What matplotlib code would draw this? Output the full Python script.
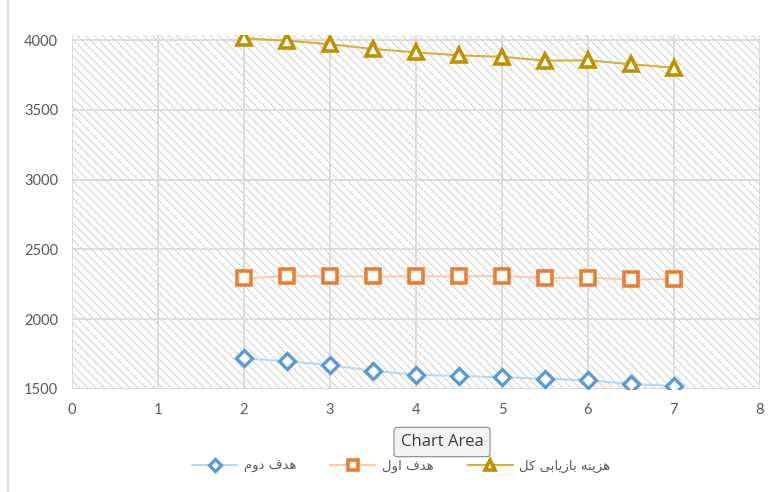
import numpy as np
import matplotlib
matplotlib.use("Agg")
import matplotlib.pyplot as plt
from matplotlib.patches import Rectangle
from matplotlib.lines import Line2D

# data
x = [2, 2.5, 3, 3.5, 4, 4.5, 5, 5.5, 6, 6.5, 7]
total_cost = [4012, 3995, 3970, 3936, 3912, 3890, 3880, 3852, 3855, 3826, 3802]
goal_one = [2293, 2309, 2307, 2307, 2307, 2307, 2309, 2295, 2297, 2286, 2286]
goal_two = [1720, 1698, 1672, 1629, 1603, 1593, 1584, 1574, 1562, 1536, 1522]

# persian labels, pre-shaped (presentation forms, visual order) since matplotlib has no bidi
lbl_total = "\uFEDE\uFB90 \uFBFD\uFE91\uFE8E\uFBFE\uFEAF\uFE8E\uFE91 \uFEEA\uFEE8\uFBFE\uFEB0\uFEEB"  # هزینه بازیابی کل
lbl_one = "\uFEDD\uFEED\uFE8D \uFED1\uFEAA\uFEEB"  # هدف اول
lbl_two = "\uFEE1\uFEED\uFEA9 \uFED1\uFEAA\uFEEB"  # هدف دوم

xticks = np.arange(0, 9, 1)
yticks = np.arange(1500, 4001, 500)

plt.rcParams['font.family'] = ['Lato', 'DejaVu Sans']
plt.rcParams['hatch.linewidth'] = 0.7
plt.rcParams['hatch.color'] = '#cfcfcf'

fig = plt.figure(figsize=(7.79, 4.92), dpi=100)
ax = fig.add_axes([72/779, 103/492, 688/779, 354/492])
ax.set_xlim(0, 8)
ax.set_ylim(1500, 4036)

# hatched plot area
ax.add_patch(Rectangle((0, 0), 1, 1, transform=ax.transAxes, facecolor='white',
                       edgecolor='#cfcfcf', hatch='\\\\\\\\', lw=0, zorder=0))

ax.set_xticks(xticks)
ax.set_yticks(yticks)
ax.grid(True, color='#d9d9d9', lw=1.3, zorder=1)
for s in ax.spines.values():
    s.set_visible(False)
ax.axhline(1500, color='#d9d9d9', lw=1.3, zorder=1)
ax.tick_params(length=0, labelsize=10.5, labelcolor='#595959', pad=10)

ax.plot(x, goal_two, color='#bdd7ee', lw=1.5, marker='D', ms=8, mfc='white',
        mec='#5b9bd5', mew=2.4, zorder=3, label=lbl_two)
ax.plot(x, goal_one, color='#f8cbad', lw=1.5, marker='s', ms=10, mfc='white',
        mec='#ed7d31', mew=2.6, zorder=3, label=lbl_one)
ax.plot(x, total_cost, color='#d4b040', lw=1.5, marker='^', ms=10, mfc='white',
        mec='#bf9000', mew=2.6, zorder=3, label=lbl_total)

leg = fig.legend(loc='center', bbox_to_anchor=(0.515, 0.052), ncol=3, frameon=False,
                 handlelength=3.4, columnspacing=2.6, handletextpad=0.5, markerscale=0.75,
                 prop={'family': ['DejaVu Sans'], 'size': 9.5})
for t in leg.get_texts():
    t.set_color('#595959')

# chart area border on the left
fig.add_artist(Line2D([8/779, 8/779], [0, 1], color='#d9d9d9', lw=1.2))

# the "Chart Area" tooltip from the screenshot
fig.text(442/779, (492-442)/492, "Chart Area", ha='center', va='center', fontsize=12,
         color='#3c3c3c', family=['Open Sans', 'DejaVu Sans'],
         bbox=dict(boxstyle='round,pad=0.4,rounding_size=0.2', facecolor='#f4f4f8',
                   edgecolor='#8a8a8a', lw=0.8))

fig.savefig('out.png', dpi=100)
